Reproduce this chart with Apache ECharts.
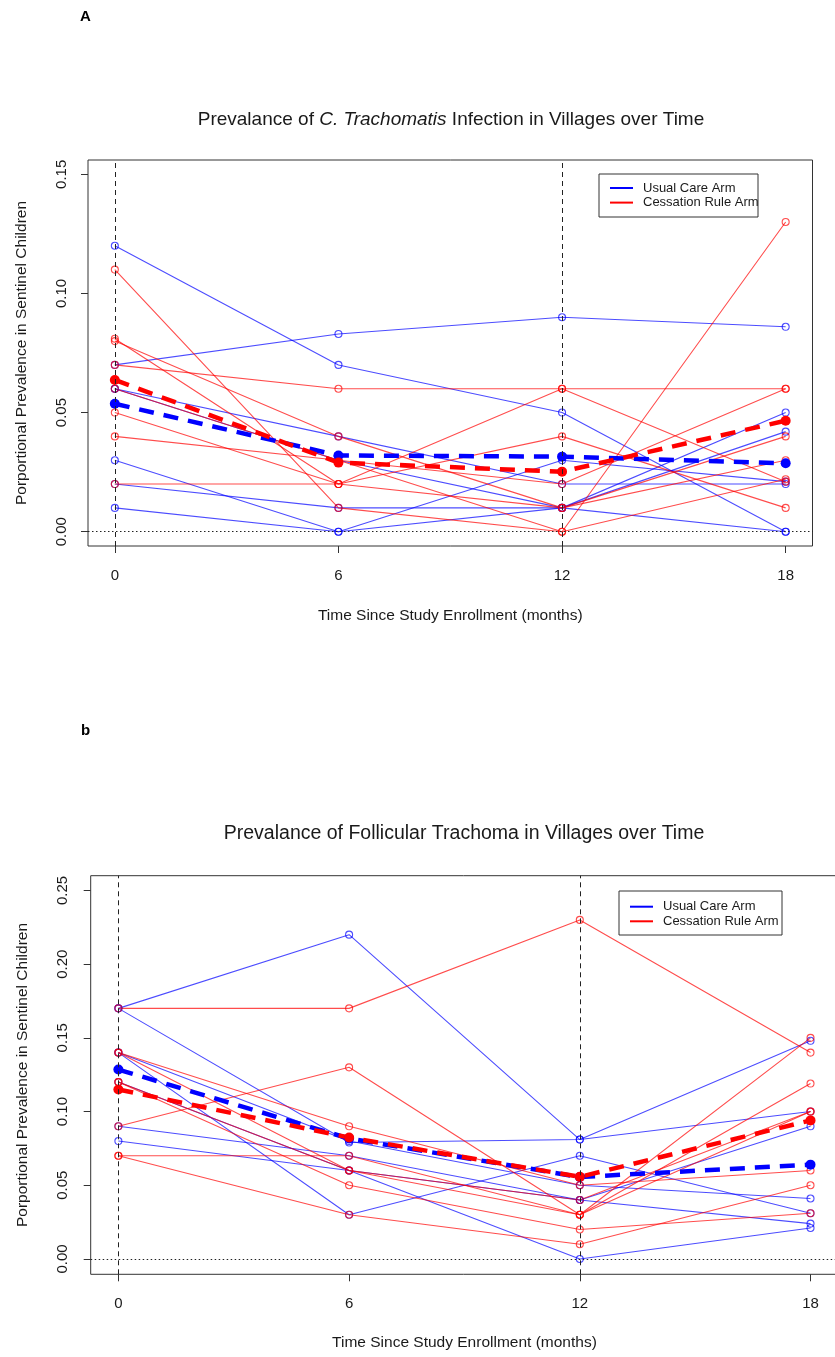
<!DOCTYPE html>
<html><head><meta charset="utf-8">
<script src="https://cdn.jsdelivr.net/npm/echarts@6/dist/echarts.min.js"></script>
<style>html,body{margin:0;padding:0;background:#fff}#c{width:835px;height:1357px}</style>
</head><body><div id="c"></div>
<script>
// ---------- data ----------
const months = [0, 6, 12, 18];
const xTicks = [0, 6, 12, 18];
const yTicksA = [0, 0.05, 0.10, 0.15];
const yTicksB = [0, 0.05, 0.10, 0.15, 0.20, 0.25];

// Panel A: C. trachomatis infection, one array per village
const usualA = [
  [0.12, 0.07, 0.05, 0.00],
  [0.07, 0.083, 0.09, 0.086],
  [0.06, 0.04, 0.02, 0.02],
  [0.06, 0.03, 0.01, 0.05],
  [0.03, 0.00, 0.03, 0.021],
  [0.02, 0.01, 0.01, 0.00],
  [0.01, 0.00, 0.01, 0.042]
];
const cessA = [
  [0.11, 0.01, 0.00, 0.13],
  [0.081, 0.02, 0.06, 0.021],
  [0.08, 0.04, 0.01, 0.04],
  [0.07, 0.06, 0.06, 0.06],
  [0.06, 0.03, 0.02, 0.06],
  [0.05, 0.02, 0.04, 0.01],
  [0.04, 0.03, 0.00, 0.022],
  [0.02, 0.02, 0.01, 0.03]
];
const usualMeanA = [0.0537, 0.032, 0.0315, 0.0287];
const cessMeanA = [0.0637, 0.029, 0.0252, 0.0466];

// Panel b: follicular trachoma
const usualB = [
  [0.17, 0.22, 0.081, 0.148],
  [0.17, 0.079, 0.081, 0.10],
  [0.14, 0.03, 0.07, 0.031],
  [0.14, 0.08, 0.05, 0.041],
  [0.12, 0.06, 0.00, 0.021],
  [0.09, 0.07, 0.04, 0.09],
  [0.08, 0.06, 0.04, 0.024]
];
const cessB = [
  [0.17, 0.17, 0.23, 0.14],
  [0.09, 0.13, 0.03, 0.15],
  [0.14, 0.09, 0.05, 0.06],
  [0.07, 0.07, 0.03, 0.119],
  [0.14, 0.06, 0.03, 0.10],
  [0.12, 0.06, 0.04, 0.10],
  [0.12, 0.05, 0.02, 0.031],
  [0.07, 0.03, 0.01, 0.05]
];
const usualMeanB = [0.1285, 0.0817, 0.0556, 0.064];
const cessMeanB = [0.115, 0.0824, 0.0557, 0.094];

const titleA = ['Prevalance of ', 'C. Trachomatis', ' Infection in Villages over Time'];
const titleB = 'Prevalance of Follicular Trachoma in Villages over Time';
const xName = 'Time Since Study Enrollment (months)';
const yName = 'Porportional Prevalence in Sentinel Children';
const legendNames = ['Usual Care Arm', 'Cessation Rule Arm'];

// ---------- styling ----------
const BLUE = 'rgba(0,0,255,0.7)';
const RED = 'rgba(255,0,0,0.7)';
const FONT = 'Liberation Sans, Arial, sans-serif';
const TXT = '#1a1a1a';

const chart = echarts.init(document.getElementById('c'), null, {renderer: 'canvas'});

function villageSeries(g, arr, color) {
  return {
    type: 'line', xAxisIndex: g, yAxisIndex: g,
    data: months.map((m, i) => [m, arr[i]]),
    symbol: 'circle', symbolSize: 7,
    lineStyle: {color: color, width: 1.1},
    itemStyle: {color: 'rgba(0,0,0,0)', borderColor: color, borderWidth: 1.1},
    emphasis: {disabled: true}, silent: true, z: 2
  };
}
function meanSeries(g, arr, color) {
  return {
    type: 'line', xAxisIndex: g, yAxisIndex: g,
    data: months.map((m, i) => [m, arr[i]]),
    symbol: 'circle', symbolSize: 10,
    lineStyle: {color: color, width: 4.5, type: [15, 10]},
    itemStyle: {color: color},
    emphasis: {disabled: true}, silent: true, z: 4
  };
}
function refLines(g) {
  return {
    type: 'line', xAxisIndex: g, yAxisIndex: g, data: [], silent: true, z: 1,
    markLine: {
      symbol: ['none', 'none'], silent: true, animation: false,
      label: {show: false},
      data: [
        {xAxis: 0, lineStyle: {color: '#222', type: [5, 4], width: 1}},
        {xAxis: 12, lineStyle: {color: '#222', type: [5, 4], width: 1}},
        {yAxis: 0, lineStyle: {color: '#222', type: [1.5, 2.5], width: 1}}
      ]
    }
  };
}
function xAxisCfg(g, gap) {
  return {
    gridIndex: g, type: 'value', min: -0.72, max: 18.72,
    axisLine: {show: false, onZero: false},
    axisTick: {show: true, length: 7, customValues: xTicks, lineStyle: {color: '#333'}},
    axisLabel: {customValues: xTicks, fontSize: 15, margin: 22, color: TXT, fontFamily: FONT},
    splitLine: {show: false},
    name: xName, nameLocation: 'middle', nameGap: gap,
    nameTextStyle: {fontSize: 15.5, color: TXT, fontFamily: FONT}
  };
}
function yAxisCfg(g, min, max, ticks, gap, margin) {
  return {
    gridIndex: g, type: 'value', min: min, max: max,
    axisLine: {show: false, onZero: false},
    axisTick: {show: true, length: 7, customValues: ticks, lineStyle: {color: '#333'}},
    axisLabel: {customValues: ticks, rotate: 90, fontSize: 15, margin: margin, color: TXT, fontFamily: FONT,
      formatter: v => v.toFixed(2)},
    splitLine: {show: false},
    name: yName, nameLocation: 'middle', nameGap: gap, nameRotate: 90,
    nameTextStyle: {fontSize: 15.5, color: TXT, fontFamily: FONT}
  };
}
function legendGraphic(x, y, w, h, lx, ly) {
  const els = [
    {type: 'rect', shape: {x: x, y: y, width: w, height: h},
     style: {fill: '#fff', stroke: '#333', lineWidth: 1}, z: 10}
  ];
  ['#0000ff', '#ff0000'].forEach((c, i) => {
    els.push({type: 'line', shape: {x1: lx, y1: ly + i * 14.6, x2: lx + 23, y2: ly + i * 14.6},
      style: {stroke: c, lineWidth: 2}, z: 11});
    els.push({type: 'text', x: lx + 33, y: ly + i * 14.6,
      style: {text: legendNames[i], fontSize: 13, fill: TXT, fontFamily: FONT,
        verticalAlign: 'middle', align: 'left'}, z: 11});
  });
  return els;
}

const series = [];
series.push(refLines(0));
usualA.forEach(a => series.push(villageSeries(0, a, BLUE)));
cessA.forEach(a => series.push(villageSeries(0, a, RED)));
series.push(meanSeries(0, usualMeanA, '#0000ff'));
series.push(meanSeries(0, cessMeanA, '#ff0000'));
series.push(refLines(1));
usualB.forEach(a => series.push(villageSeries(1, a, BLUE)));
cessB.forEach(a => series.push(villageSeries(1, a, RED)));
series.push(meanSeries(1, usualMeanB, '#0000ff'));
series.push(meanSeries(1, cessMeanB, '#ff0000'));

const graphic = [
  {type: 'text', x: 80, y: 17, style: {text: 'A', fontSize: 15, fontWeight: 'bold', fill: '#000',
    fontFamily: FONT, verticalAlign: 'middle'}},
  {type: 'text', x: 81, y: 731, style: {text: 'b', fontSize: 15, fontWeight: 'bold', fill: '#000',
    fontFamily: FONT, verticalAlign: 'middle'}},
  {type: 'text', x: 451, y: 120, style: {
    text: titleA[0] + '{i|' + titleA[1] + '}' + titleA[2],
    fontSize: 19, fill: TXT, fontFamily: FONT, align: 'center', verticalAlign: 'middle',
    rich: {i: {fontStyle: 'italic', fontSize: 19, fill: TXT, fontFamily: FONT}}}},
  {type: 'text', x: 464, y: 834, style: {text: titleB,
    fontSize: 19.5, fill: TXT, fontFamily: FONT, align: 'center', verticalAlign: 'middle'}}
].concat(legendGraphic(599, 174, 159, 43, 610, 188))
 .concat(legendGraphic(619, 891, 163, 44, 630, 906.7));

chart.setOption({
  animation: false,
  backgroundColor: '#fff',
  grid: [
    {left: 88, top: 160, width: 724.5, height: 386, show: true, borderColor: '#333', borderWidth: 1,
     containLabel: false, outerBoundsMode: 'none'},
    {left: 90.7, top: 875.7, width: 747.5, height: 398.6, show: true, borderColor: '#333', borderWidth: 1,
     containLabel: false, outerBoundsMode: 'none'}
  ],
  xAxis: [xAxisCfg(0, 62), xAxisCfg(1, 60)],
  yAxis: [yAxisCfg(0, -0.006, 0.156, yTicksA, 58, 19), yAxisCfg(1, -0.0104, 0.26, yTicksB, 60, 20)],
  series: series,
  graphic: graphic
});
</script></body></html>
